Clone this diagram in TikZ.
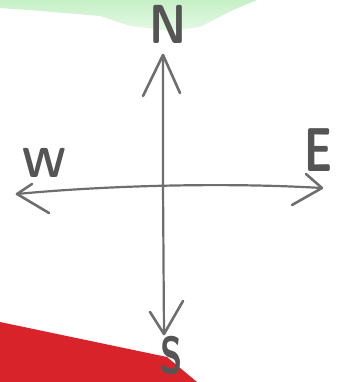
\documentclass[tikz,border=0pt]{standalone}
\usetikzlibrary{calc}
\definecolor{pencil}{HTML}{6E6E6E}
\definecolor{pencilText}{HTML}{555555}
\definecolor{paperGreen}{HTML}{C6F0C6}
\definecolor{paperRed}{HTML}{D8232B}
\tikzset{
  shaft/.style={draw=pencil, line width=2.2pt, line cap=round, line join=round},
  barb/.style={draw=pencil, line width=2.6pt, line cap=round, line join=round},
  letter/.style={text=pencilText, inner sep=0pt}
}
\begin{document}
\begin{tikzpicture}[x=1pt,y=-1pt]
\useasboundingbox (0,0) rectangle (338,382);
% green paper at top
\shade[top color=paperGreen, bottom color=paperGreen!45!white, draw=none]
  (0,0) -- (257,0) -- (233,10) -- (200,27) -- (170,31) -- (130,26) -- (100,16) -- (40,11) -- (0,8) -- cycle;
% red paper at bottom
\fill[paperRed] (0,322) -- (167,357) -- (197,382) -- (0,382) -- cycle;
% key points
\coordinate (c) at (163,185);
\coordinate (n) at (163,55);
\coordinate (s) at (164,334);
\coordinate (w) at (17,194);
\coordinate (e) at (322,188);
% barb ends
\coordinate (n1) at (143,96);
\coordinate (n2) at (180,93);
\coordinate (s1) at (150,312);
\coordinate (s2) at (183,301);
\coordinate (w1) at (32,184);
\coordinate (w2) at (49,213);
\coordinate (e1) at (306,174);
\coordinate (e2) at (292,205);
% shafts
\draw[shaft] (n) -- (c) -- (s);
\draw[shaft] (w) .. controls (100,186) and (220,182) .. (e);
% arrowheads
\draw[barb] (n1) -- (n) -- (n2);
\draw[barb] (s1) -- (s) -- (s2);
\draw[barb] (w1) -- (w) -- (w2);
\draw[barb] (e1) -- (e) -- (e2);
% letters
\node[letter, font=\sffamily\bfseries\fontsize{55}{55}\selectfont, xscale=0.85] (N) at (168,24) {N};
\node[letter, font=\sffamily\bfseries\fontsize{42}{42}\selectfont] (W) at (44,163) {W};
\node[letter, font=\sffamily\bfseries\fontsize{62}{62}\selectfont, xscale=0.7] (E) at (318,150) {E};
\node[letter, font=\sffamily\bfseries\fontsize{52}{52}\selectfont, xscale=0.7] (S) at (172,355) {S};
\end{tikzpicture}
\end{document}
